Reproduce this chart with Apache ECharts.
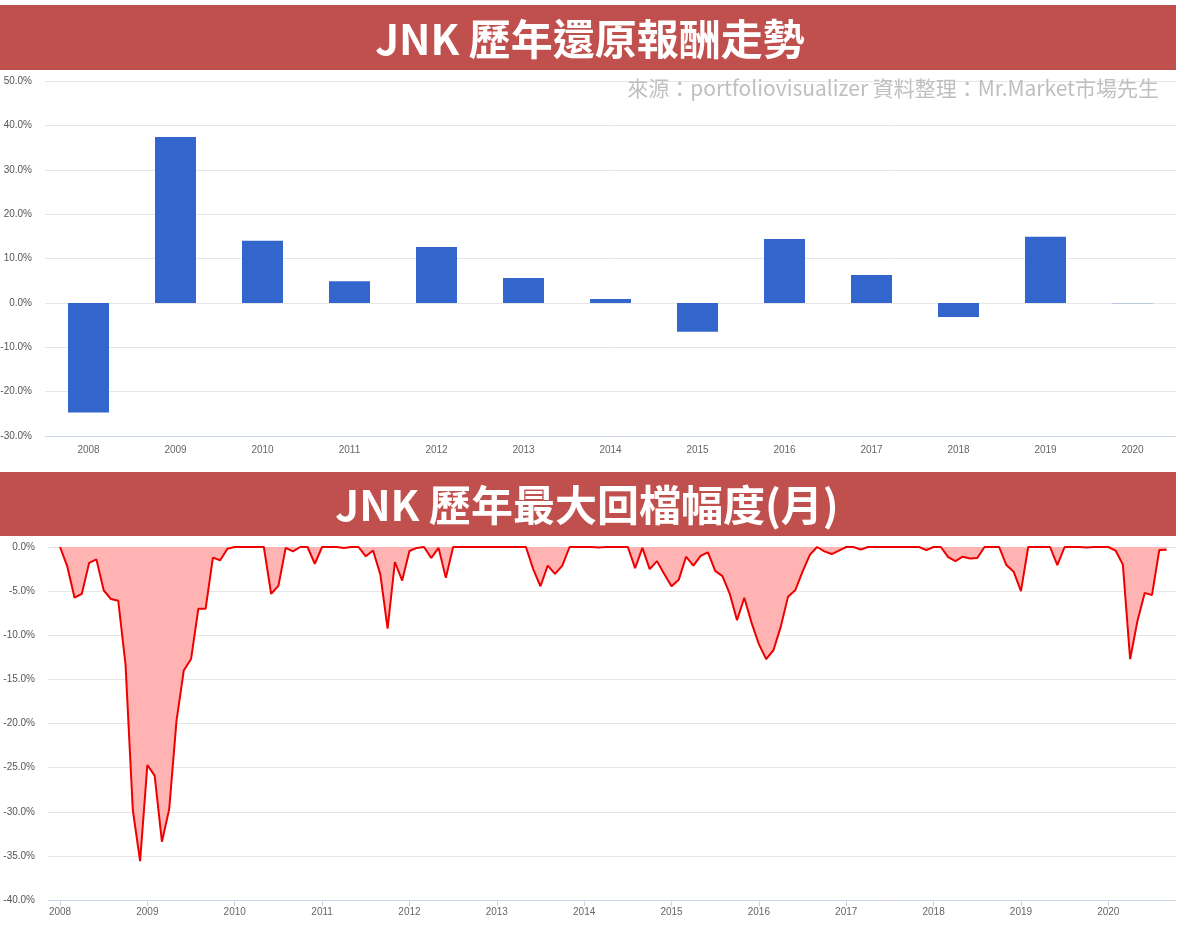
<!DOCTYPE html>
<html>
<head>
<meta charset="utf-8">
<script src="https://cdn.jsdelivr.net/npm/echarts@6/dist/echarts.min.js"></script>
<style>
html,body{margin:0;padding:0;background:#fff;}
#chart{width:1181px;height:926px;}
</style>
</head>
<body>
<div id="chart"></div>
<script>
// ---- Data ----
const returnYears = ['2008','2009','2010','2011','2012','2013','2014','2015','2016','2017','2018','2019','2020'];
const annualReturns = [-24.7, 37.4, 14.0, 4.9, 12.6, 5.6, 0.9, -6.5, 14.4, 6.3, -3.2, 14.9, -0.1];
const returnTicks = [-30, -20, -10, 0, 10, 20, 30, 40, 50];

// monthly drawdown, starting January 2008
const drawdownStartYear = 2008;
const monthlyDrawdown = [
  0, -2.2, -5.75, -5.3, -1.8, -1.4, -4.9, -5.9, -6.1, -13.3, -29.8, -35.6,
  -24.7, -25.9, -33.4, -29.7, -19.7, -14.0, -12.7, -7.0, -7.0, -1.2, -1.5, -0.2,
  0, 0, 0, 0, 0, -5.3, -4.4, -0.1, -0.5, 0, 0, -1.9,
  0, 0, 0, -0.1, 0, 0, -1.05, -0.4, -3.1, -9.25, -1.7, -3.8,
  -0.45, -0.1, 0, -1.25, -0.1, -3.5, 0, 0, 0, 0, 0, 0,
  0, 0, 0, 0, 0, -2.5, -4.45, -2.1, -3.05, -2.1, 0, 0,
  0, 0, -0.05, 0, 0, 0, 0, -2.4, -0.1, -2.5, -1.6, -3.05,
  -4.45, -3.7, -1.1, -2.1, -1.0, -0.6, -2.7, -3.3, -5.3, -8.3, -5.75, -8.6,
  -11.0, -12.7, -11.7, -9.05, -5.65, -4.9, -2.8, -0.9, 0, -0.5, -0.8, -0.4,
  0, 0, -0.3, 0, 0, 0, 0, 0, 0, 0, 0, -0.35,
  0, 0, -1.15, -1.6, -1.1, -1.3, -1.25, 0, 0, 0, -2.05, -2.8,
  -5.0, 0, 0, 0, 0, -2.05, 0, 0, 0, -0.05, 0, 0,
  0, -0.4, -2.0, -12.7, -8.4, -5.2, -5.45, -0.35, -0.3
];
const drawdownYearTicks = [2008,2009,2010,2011,2012,2013,2014,2015,2016,2017,2018,2019,2020];
const drawdownTicks = [-40, -35, -30, -25, -20, -15, -10, -5, 0];

const titleTop = 'JNK 歷年還原報酬走勢';
const titleBottom = 'JNK 歷年最大回檔幅度(月)';
const sourceText = '來源：portfoliovisualizer 資料整理：Mr.Market市場先生';

// ---- Chart ----
const chart = echarts.init(document.getElementById('chart'));
const labelFont = 'Liberation Sans, Arial, sans-serif';
const cjkFont = '"Noto Sans CJK TC", "Noto Sans CJK SC", sans-serif';
const monthTicks = drawdownYearTicks.map(y => (y - drawdownStartYear) * 12);
const ddData = monthlyDrawdown.map((v, i) => [i, v]);

const option = {
  animation: false,
  backgroundColor: '#ffffff',
  graphic: [
    {type: 'rect', z: 10, shape: {x: 0, y: 5, width: 1176, height: 65}, style: {fill: '#c0504d'}},
    {type: 'rect', z: 10, shape: {x: 0, y: 472, width: 1176, height: 64}, style: {fill: '#c0504d'}},
    {type: 'text', z: 11, x: 590, y: 39, style: {text: titleTop, fill: '#ffffff', font: 'bold 42px ' + cjkFont, align: 'center', verticalAlign: 'middle'}},
    {type: 'text', z: 11, x: 587, y: 505, style: {text: titleBottom, fill: '#ffffff', font: 'bold 42px ' + cjkFont, align: 'center', verticalAlign: 'middle'}},
    {type: 'text', z: 11, x: 1159, y: 88, style: {text: sourceText, fill: '#bfbfbf', font: '21px ' + cjkFont, align: 'right', verticalAlign: 'middle'}}
  ],
  grid: [
    {left: 45, right: 5, top: 81, bottom: 490, outerBoundsMode: 'none', containLabel: false},
    {left: 48, right: 5, top: 547, bottom: 26, outerBoundsMode: 'none', containLabel: false}
  ],
  xAxis: [
    {
      type: 'category', gridIndex: 0, data: returnYears, boundaryGap: true,
      axisLine: {onZero: false, lineStyle: {color: '#ccd6eb', width: 1}},
      axisTick: {show: false},
      axisLabel: {color: '#666666', fontSize: 10, fontFamily: labelFont, margin: 9},
      splitLine: {show: false}
    },
    {
      type: 'value', gridIndex: 1, min: -1.65, max: 153.3,
      name: 'Y', nameLocation: 'middle', nameGap: 26,
      nameTextStyle: {color: '#666666', fontSize: 11, fontFamily: labelFont},
      axisLine: {onZero: false, lineStyle: {color: '#ccd6eb', width: 1}},
      axisTick: {show: true, customValues: monthTicks, length: 6, lineStyle: {color: '#ccd6eb'}},
      axisLabel: {
        customValues: monthTicks, color: '#666666', fontSize: 10, fontFamily: labelFont, margin: 7,
        formatter: v => String(drawdownStartYear + Math.round(v / 12))
      },
      splitLine: {show: false}
    }
  ],
  yAxis: [
    {
      type: 'value', gridIndex: 0, min: returnTicks[0], max: returnTicks[returnTicks.length - 1], interval: 10,
      axisLine: {show: false}, axisTick: {show: false},
      axisLabel: {color: '#555555', fontSize: 10, fontFamily: labelFont, margin: 13, formatter: v => v.toFixed(1) + '%'},
      splitLine: {lineStyle: {color: '#e6e6e6', width: 1}}
    },
    {
      type: 'value', gridIndex: 1, min: drawdownTicks[0], max: drawdownTicks[drawdownTicks.length - 1], interval: 5,
      axisLine: {show: false}, axisTick: {show: false},
      axisLabel: {color: '#555555', fontSize: 10, fontFamily: labelFont, margin: 13, formatter: v => v.toFixed(1) + '%'},
      splitLine: {lineStyle: {color: '#e6e6e6', width: 1}}
    }
  ],
  series: [
    {
      type: 'bar', xAxisIndex: 0, yAxisIndex: 0, data: annualReturns,
      barWidth: 41, itemStyle: {color: '#3366cc'}
    },
    {
      type: 'line', xAxisIndex: 1, yAxisIndex: 1, data: ddData,
      symbol: 'none', smooth: false,
      lineStyle: {color: '#ee0000', width: 2},
      areaStyle: {color: '#ffb3b3', opacity: 1}
    }
  ]
};
chart.setOption(option);
</script>
</body>
</html>
